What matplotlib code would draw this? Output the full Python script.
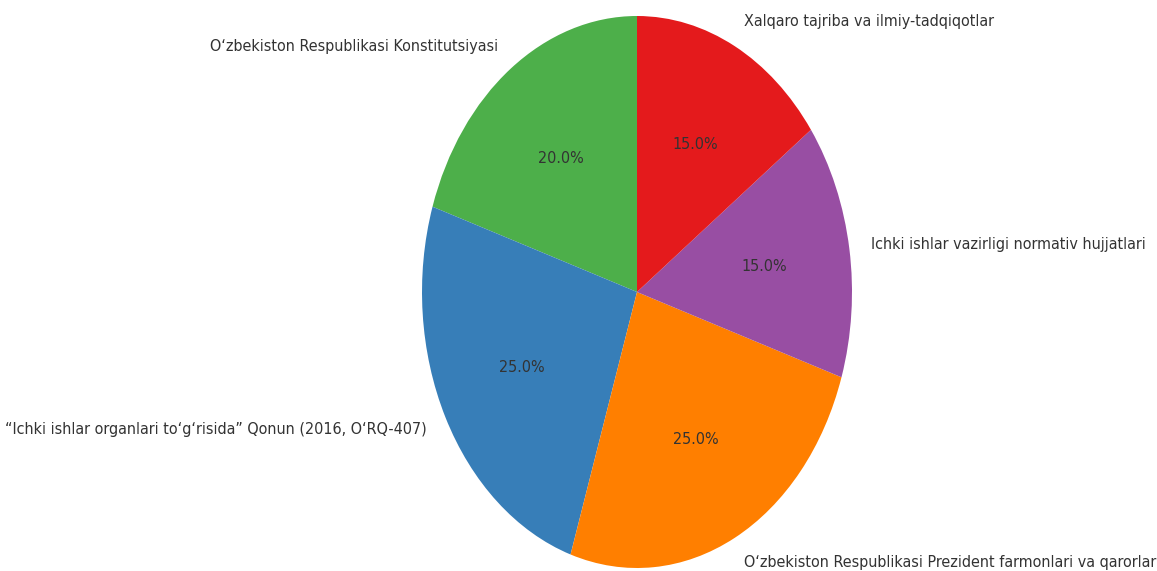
import matplotlib
matplotlib.use('Agg')
import matplotlib.pyplot as plt

# Sources and their shares (%)
labels = [
    "O\u2018zbekiston Respublikasi Konstitutsiyasi",
    "\u201cIchki ishlar organlari to\u2018g\u2018risida\u201d Qonun (2016, O\u2018RQ-407)",
    "O\u2018zbekiston Respublikasi Prezident farmonlari va qarorlari",
    "Ichki ishlar vazirligi normativ hujjatlari",
    "Xalqaro tajriba va ilmiy-tadqiqotlar",
]
shares = [20, 25, 25, 15, 15]
colors = ['#4daf4a', '#377eb8', '#ff7f00', '#984ea3', '#e41a1c']

fig = plt.figure(figsize=(11.57, 5.71), dpi=100)
# pie is stretched vertically in the reference, so no equal aspect
ax = fig.add_axes([422/1157, 3/571, 430/1157, 552/571])

wedges, texts, autotexts = ax.pie(shares, labels=labels, colors=colors,
                                  autopct='%1.1f%%', startangle=90,
                                  textprops={'color': '#333333',
                                             'fontsize': 11.5,
                                             'family': 'DejaVu Sans',
                                             'fontstretch': 'condensed'})
ax.set_aspect('auto')
ax.set_xlim(-1, 1)
ax.set_ylim(-1, 1)
ax.axis('off')

fig.savefig('out.png', dpi=100)
